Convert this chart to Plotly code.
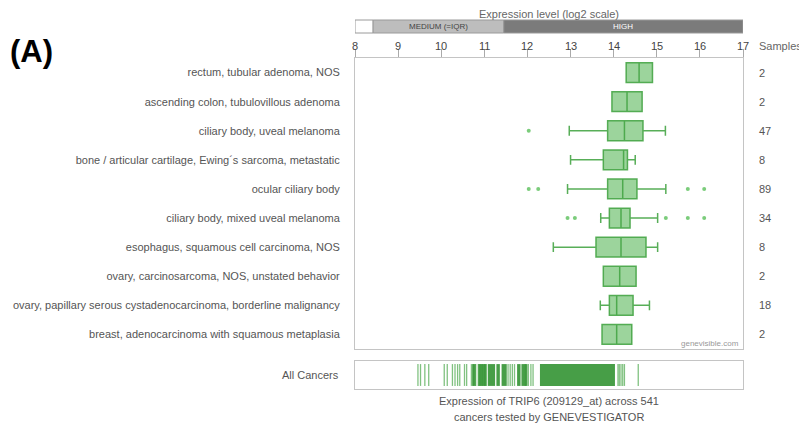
import plotly.graph_objects as go

# ---------------- data ----------------
categories = [
    "rectum, tubular adenoma, NOS",
    "ascending colon, tubulovillous adenoma",
    "ciliary body, uveal melanoma",
    "bone / articular cartilage, Ewing\u00b4s sarcoma, metastatic",
    "ocular ciliary body",
    "ciliary body, mixed uveal melanoma",
    "esophagus, squamous cell carcinoma, NOS",
    "ovary, carcinosarcoma, NOS, unstated behavior",
    "ovary, papillary serous cystadenocarcinoma, borderline malignancy",
    "breast, adenocarcinoma with squamous metaplasia",
]
samples = [2, 2, 47, 8, 89, 34, 8, 2, 18, 2]
q1 = [14.29, 13.96, 13.86, 13.76, 13.86, 13.90, 13.59, 13.76, 13.90, 13.73]
median = [14.59, 14.31, 14.25, 14.23, 14.21, 14.17, 14.17, 14.14, 14.07, 14.07]
q3 = [14.90, 14.66, 14.68, 14.32, 14.54, 14.38, 14.75, 14.52, 14.45, 14.42]
lowerfence = [14.29, 13.96, 12.97, 13.00, 12.93, 13.70, 12.60, 13.76, 13.69, 13.73]
upperfence = [14.90, 14.66, 15.20, 14.50, 15.21, 15.02, 15.02, 14.52, 14.83, 14.42]

outlier_cat = [2, 4, 4, 4, 4, 5, 5, 5, 5, 5]
outlier_val = [12.03, 12.03, 12.25, 15.72, 16.10, 12.93, 13.10, 15.21, 15.72, 16.10]

level_names = ["", "MEDIUM (=IQR)", "HIGH"]
level_lo = [8.0, 8.42, 11.45]
level_hi = [8.42, 11.45, 17.0]

x_ticks = [8, 9, 10, 11, 12, 13, 14, 15, 16, 17]

# All-cancers strip: single sample lines and dense (solid) ranges
strip_lines = [9.46, 9.52, 9.62, 9.71, 10.07, 10.14, 10.26, 10.32, 10.38, 10.43,
               10.54, 10.59, 10.70, 10.74, 10.80, 10.86, 10.90, 10.95, 11.00, 11.04,
               11.55, 11.60, 11.65, 11.70, 11.95, 12.02, 12.08, 12.13,
               14.10, 14.13, 14.17, 14.21, 14.25, 14.57]
strip_ranges_lo = [10.72, 10.86, 11.08, 11.28, 11.40, 11.76, 11.86, 12.29]
strip_ranges_hi = [10.80, 11.05, 11.25, 11.36, 11.52, 11.84, 12.00, 14.03]

# ---------------- layout geometry ----------------
OFF = 8                      # page body margin
W_FIG, H_FIG = 807 - OFF, 429 - OFF
L_REF, R_REF, T_REF, B_REF = 355, 743, 58, 389   # plot area in page pixels
L = L_REF - OFF
T = T_REF - OFF
R = W_FIG - (R_REF - OFF)
B = H_FIG - (B_REF - OFF)
PW = R_REF - L_REF
PH = B_REF - T_REF


def px(xp):
    return (xp - L_REF) / PW


def py(yp):
    return 1 - (yp - T_REF) / PH


GREEN_FILL = "rgba(95,185,95,0.62)"
GREEN_LINE = "rgba(70,165,70,0.9)"
FONT = "Liberation Sans, Arial, sans-serif"

fig = go.Figure()

fig.add_trace(go.Box(
    y=categories, q1=q1, median=median, q3=q3,
    lowerfence=lowerfence, upperfence=upperfence,
    orientation="h", fillcolor=GREEN_FILL,
    line=dict(color=GREEN_LINE, width=1.5),
    width=0.68, whiskerwidth=0.5, boxpoints=False,
    hoverinfo="skip", showlegend=False, xaxis="x", yaxis="y",
))

fig.add_trace(go.Scatter(
    x=outlier_val, y=[categories[i] for i in outlier_cat], mode="markers",
    marker=dict(color="rgba(100,195,100,0.85)", size=4),
    showlegend=False, hoverinfo="skip", xaxis="x", yaxis="y",
))

# strip: thin lines
fig.add_trace(go.Bar(
    base=[v - 0.015 for v in strip_lines], x=[0.03] * len(strip_lines),
    y=[0] * len(strip_lines), orientation="h", width=0.78,
    marker=dict(color="rgba(60,160,60,0.65)", line=dict(width=0)),
    showlegend=False, hoverinfo="skip", xaxis="x2", yaxis="y2",
))
# strip: dense ranges
fig.add_trace(go.Bar(
    base=strip_ranges_lo,
    x=[h - l for l, h in zip(strip_ranges_lo, strip_ranges_hi)],
    y=[0] * len(strip_ranges_lo), orientation="h", width=0.78,
    marker=dict(color="rgba(55,150,55,0.92)", line=dict(width=0)),
    showlegend=False, hoverinfo="skip", xaxis="x2", yaxis="y2",
))

shapes = []
annotations = []


def note(text, x, y, xref="paper", yref="paper", xanchor="center", size=11,
         color="#555"):
    annotations.append(dict(x=x, y=y, xref=xref, yref=yref, xanchor=xanchor,
                            yanchor="middle", text=text, showarrow=False,
                            font=dict(size=size, color=color, family=FONT)))


level_colors = ["#ffffff", "#bdbdbd", "#7b7b7b"]
level_text_colors = ["#444", "#444", "#ffffff"]
for name, lo, hi, c, tc in zip(level_names, level_lo, level_hi, level_colors, level_text_colors):
    shapes.append(dict(type="rect", xref="x", yref="paper", x0=lo, x1=hi,
                       y0=py(33), y1=py(20), fillcolor=c,
                       line=dict(color="#9a9a9a", width=1), layer="above"))
    if name:
        note(name, (lo + hi) / 2, py(26.5), xref="x", size=8, color=tc)

note("Expression level (log2 scale)", 0.5, py(14), color="#666")
for t in x_ticks:
    note(str(t), t, py(45.5), xref="x", color="#444")
note("Samples", px(757), py(46), xanchor="left", color="#666")
for cat, n in zip(categories, samples):
    note(str(n), px(757), cat, yref="y", xanchor="left")
note("genevisible.com", px(741), py(343), xanchor="right", size=8, color="#999")
note("All Cancers", px(341), py(375), xanchor="right")
note("Expression of TRIP6 (209129_at) across 541", 0.5, py(401))
note("cancers tested by GENEVESTIGATOR", 0.5, py(417))
note("<b>(A)</b>", px(8), py(52), xanchor="left", size=31, color="#000")

BORDER = "#c4c4c4"
fig.update_layout(
    width=W_FIG, height=H_FIG,
    margin=dict(l=L, r=R, t=T, b=B, autoexpand=False),
    paper_bgcolor="white", plot_bgcolor="white",
    barmode="overlay",
    font=dict(family=FONT, size=11, color="#555"),
    xaxis=dict(range=[8, 17], side="top", tickvals=x_ticks, ticks="outside",
               ticklen=8, tickcolor="#aaa", showline=True, mirror=True,
               showticklabels=False,
               linecolor=BORDER, showgrid=False, zeroline=False, automargin=False,
               anchor="y", fixedrange=True),
    yaxis=dict(domain=[py(349), 1], range=[len(categories) - 0.5, -0.5],
               type="category",
               showline=True, mirror=True, linecolor=BORDER, showgrid=False,
               ticks="outside", ticklen=12, tickcolor="rgba(0,0,0,0)", automargin=False,
               tickfont=dict(size=11, color="#555"), anchor="x"),
    xaxis2=dict(range=[8, 17], showticklabels=False, showline=True, mirror=True,
                linecolor=BORDER, showgrid=False, zeroline=False, ticks="",
                anchor="y2", automargin=False),
    yaxis2=dict(domain=[0, py(361)], range=[-0.5, 0.5], showticklabels=False,
                showline=True, mirror=True, linecolor=BORDER, showgrid=False,
                zeroline=False, ticks="", anchor="x2", automargin=False),
    shapes=shapes, annotations=annotations,
)

fig.write_html("out.html")
